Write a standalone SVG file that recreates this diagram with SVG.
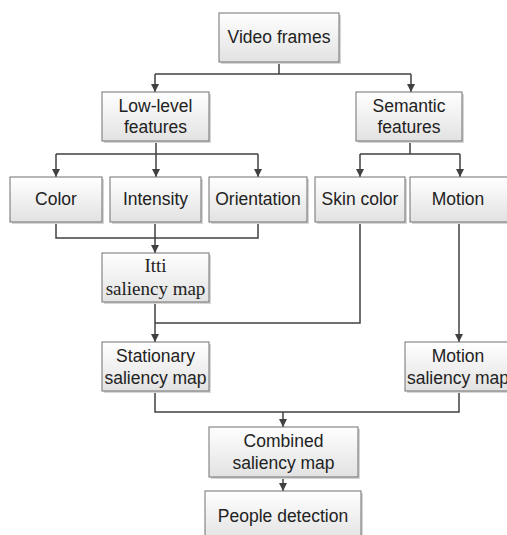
<svg xmlns="http://www.w3.org/2000/svg" width="507" height="535" viewBox="0 0 507 535">
<defs>
<linearGradient id="g" x1="0" y1="0" x2="0" y2="1">
<stop offset="0" stop-color="#ffffff"/>
<stop offset="1" stop-color="#e2e2e2"/>
</linearGradient>
<marker id="arr" viewBox="0 0 8 8" refX="8" refY="4" markerWidth="8" markerHeight="8" markerUnits="userSpaceOnUse" orient="auto">
<path d="M0,0 L8,4 L0,8 z" fill="#404040"/>
</marker>
</defs>
<style>
.box{fill:url(#g);stroke:#707070;stroke-width:1}
.sh{fill:#d6d6d6}
.t{font-family:"Liberation Sans",Arial,sans-serif;font-size:17.5px;fill:#222;text-anchor:middle}
.s{font-family:"Liberation Serif","Times New Roman",serif;font-size:19px;fill:#222;text-anchor:middle}
.c{fill:none;stroke:#404040;stroke-width:1.5}
.a{marker-end:url(#arr)}
</style>
<rect width="507" height="535" fill="#fff"/>
<g id="connectors">
<path class="c" d="M279,62 V74 M155,74 H411"/>
<path class="c a" d="M155,74 V92"/>
<path class="c a" d="M411,74 V92"/>
<path class="c" d="M156,141 V154 M56,154 H258"/>
<path class="c a" d="M56,154 V177"/>
<path class="c a" d="M156,154 V177"/>
<path class="c a" d="M258,154 V177"/>
<path class="c" d="M410,141 V154 M360,154 H460"/>
<path class="c a" d="M360,154 V177"/>
<path class="c a" d="M460,154 V177"/>
<path class="c" d="M56,222 V238 H258 V222"/>
<path class="c a" d="M155,222 V253"/>
<path class="c" d="M360,222 V323 H155"/>
<path class="c a" d="M155,302 V342"/>
<path class="c a" d="M459,222 V342"/>
<path class="c" d="M155,391 V412 H459 V391"/>
<path class="c a" d="M283,412 V427"/>
<path class="c a" d="M283,477 V491"/>
</g>
<g id="video-frames">
<rect class="sh" x="221" y="15" width="120" height="49"/>
<rect class="box" x="219" y="13" width="120" height="49"/>
<text class="t" x="279" y="43">Video frames</text>
</g>
<g id="low-level">
<rect class="sh" x="104" y="94" width="107" height="49"/>
<rect class="box" x="102" y="92" width="107" height="49"/>
<text class="t" x="155.5" y="112">Low-level</text>
<text class="t" x="155.5" y="133">features</text>
</g>
<g id="semantic">
<rect class="sh" x="358" y="94" width="106" height="49"/>
<rect class="box" x="356" y="92" width="106" height="49"/>
<text class="t" x="409" y="112">Semantic</text>
<text class="t" x="409" y="133">features</text>
</g>
<g id="color">
<rect class="sh" x="12" y="179" width="92" height="45"/>
<rect class="box" x="10" y="177" width="92" height="45"/>
<text class="t" x="56" y="205">Color</text>
</g>
<g id="intensity">
<rect class="sh" x="112" y="179" width="91" height="45"/>
<rect class="box" x="110" y="177" width="91" height="45"/>
<text class="t" x="155.5" y="205">Intensity</text>
</g>
<g id="orientation">
<rect class="sh" x="211" y="179" width="98" height="45"/>
<rect class="box" x="209" y="177" width="98" height="45"/>
<text class="t" x="258" y="205">Orientation</text>
</g>
<g id="skin-color">
<rect class="sh" x="317" y="179" width="90" height="45"/>
<rect class="box" x="315" y="177" width="90" height="45"/>
<text class="t" x="360" y="205">Skin color</text>
</g>
<g id="motion">
<rect class="sh" x="412" y="179" width="100" height="45"/>
<rect class="box" x="410" y="177" width="100" height="45"/>
<text class="t" x="458" y="205">Motion</text>
</g>
<g id="itti">
<rect class="sh" x="104" y="255" width="107" height="49"/>
<rect class="box" x="102" y="253" width="107" height="49"/>
<text class="s" x="155.5" y="272">Itti</text>
<text class="s" x="155.5" y="295">saliency map</text>
</g>
<g id="stationary">
<rect class="sh" x="104" y="344" width="107" height="49"/>
<rect class="box" x="102" y="342" width="107" height="49"/>
<text class="t" x="155.5" y="362">Stationary</text>
<text class="t" x="155.5" y="384">saliency map</text>
</g>
<g id="motion-saliency">
<rect class="sh" x="407" y="344" width="107" height="49"/>
<rect class="box" x="405" y="342" width="107" height="49"/>
<text class="t" x="458" y="362">Motion</text>
<text class="t" x="458" y="384">saliency map</text>
</g>
<g id="combined">
<rect class="sh" x="211" y="429" width="149" height="50"/>
<rect class="box" x="209" y="427" width="149" height="50"/>
<text class="t" x="283.5" y="447">Combined</text>
<text class="t" x="283.5" y="469">saliency map</text>
</g>
<g id="people">
<rect class="sh" x="207" y="493" width="156" height="50"/>
<rect class="box" x="205" y="491" width="156" height="50"/>
<text class="t" x="283" y="522">People detection</text>
</g>
</svg>
